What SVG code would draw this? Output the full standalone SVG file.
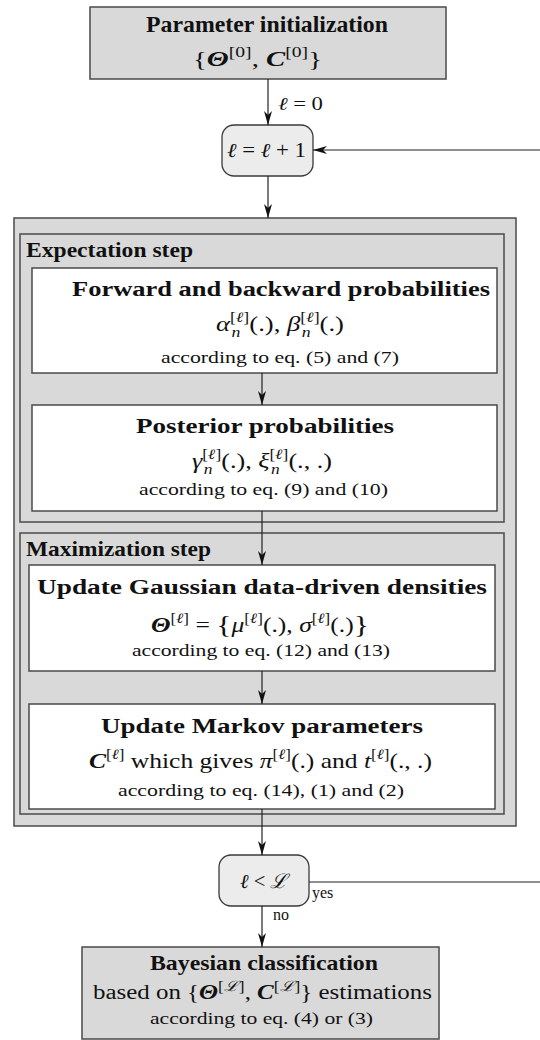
<svg xmlns="http://www.w3.org/2000/svg" width="540" height="1040" viewBox="0 0 540 1040">
<style>
text{font-family:"Liberation Serif","DejaVu Serif",serif;fill:#111}
.gray{fill:#d9d9d9;stroke:#4a4a4a;stroke-width:1.5}
.white{fill:#fff;stroke:#4a4a4a;stroke-width:1.5}
.loop{fill:#ececec;stroke:#3a3a3a;stroke-width:1.3}
.conn{stroke:#222;stroke-width:1.2;fill:none}
.b{font-weight:bold}
.i{font-style:italic}
.bi{font-style:italic;font-weight:bold}
.t{font-weight:bold;font-size:20px}
.m{font-size:21px}
.a{font-size:16px}
.s{font-size:14px}
</style>
<defs>
<marker id="ah" viewBox="0 0 14 8" refX="14" refY="4" markerWidth="14" markerHeight="8" markerUnits="userSpaceOnUse" orient="auto">
<path d="M0,0 L14,4 L0,8 L4,4 Z" fill="#111"/>
</marker>
</defs>

<g id="outer-em">
<rect class="gray" x="14" y="218" width="502" height="608"/>
</g>
<g id="expectation-step">
<rect class="gray" x="20" y="234" width="484" height="288"/>
<text class="b" x="26" y="257" font-size="21" textLength="167" lengthAdjust="spacingAndGlyphs">Expectation step</text>
</g>
<g id="maximization-step">
<rect class="gray" x="20" y="533" width="484" height="281"/>
<text class="b" x="26" y="556" font-size="21" textLength="185" lengthAdjust="spacingAndGlyphs">Maximization step</text>
</g>

<g id="init">
<rect class="gray" x="90" y="7" width="356" height="72"/>
<text class="b" x="146" y="32" font-size="23.5" textLength="242" lengthAdjust="spacingAndGlyphs">Parameter initialization</text>
<text x="193" y="66" font-size="22" textLength="129" lengthAdjust="spacingAndGlyphs">{<tspan class="bi">Θ</tspan><tspan dy="-9" font-size="15">[0]</tspan><tspan dy="9">, </tspan><tspan class="bi">C</tspan><tspan dy="-9" font-size="15">[0]</tspan><tspan dy="9">}</tspan></text>
</g>

<g id="increment">
<rect class="loop" x="222" y="125" width="91" height="51" rx="12"/>
<text x="227" y="157" font-size="20" textLength="79" lengthAdjust="spacingAndGlyphs"><tspan class="i">ℓ</tspan> = <tspan class="i">ℓ</tspan> + 1</text>
</g>

<g id="forward-backward">
<rect class="white" x="32" y="268" width="465" height="105"/>
<text class="t" x="72" y="296" textLength="418" lengthAdjust="spacingAndGlyphs">Forward and backward probabilities</text>
<text class="m" x="216" y="331" textLength="128" lengthAdjust="spacingAndGlyphs"><tspan class="i">α</tspan><tspan dy="-9" class="s">[</tspan><tspan class="s i">ℓ</tspan><tspan class="s">]</tspan><tspan dx="-14" dy="15" class="s i">n</tspan><tspan dx="7" dy="-6">(.), </tspan><tspan class="i">β</tspan><tspan dy="-9" class="s">[</tspan><tspan class="s i">ℓ</tspan><tspan class="s">]</tspan><tspan dx="-14" dy="15" class="s i">n</tspan><tspan dx="7" dy="-6">(.)</tspan></text>
<text class="a" x="161" y="363" textLength="238" lengthAdjust="spacingAndGlyphs">according to eq. (5) and (7)</text>
</g>

<g id="posterior">
<rect class="white" x="32" y="405" width="465" height="106"/>
<text class="t" x="136" y="433" textLength="258" lengthAdjust="spacingAndGlyphs">Posterior probabilities</text>
<text class="m" x="192" y="468" textLength="140" lengthAdjust="spacingAndGlyphs"><tspan class="i">γ</tspan><tspan dy="-9" class="s">[</tspan><tspan class="s i">ℓ</tspan><tspan class="s">]</tspan><tspan dx="-14" dy="15" class="s i">n</tspan><tspan dx="7" dy="-6">(.), </tspan><tspan class="i">ξ</tspan><tspan dy="-9" class="s">[</tspan><tspan class="s i">ℓ</tspan><tspan class="s">]</tspan><tspan dx="-14" dy="15" class="s i">n</tspan><tspan dx="7" dy="-6">(., .)</tspan></text>
<text class="a" x="139" y="495" textLength="249" lengthAdjust="spacingAndGlyphs">according to eq. (9) and (10)</text>
</g>

<g id="update-gaussian">
<rect class="white" x="29" y="565" width="466" height="106"/>
<text class="t" x="37" y="594" textLength="450" lengthAdjust="spacingAndGlyphs">Update Gaussian data-driven densities</text>
<text class="m" x="151" y="632" textLength="218" lengthAdjust="spacingAndGlyphs"><tspan class="bi">Θ</tspan><tspan dy="-9" class="s">[</tspan><tspan class="s i">ℓ</tspan><tspan class="s">]</tspan><tspan dy="9"> = </tspan><tspan font-size="26" dy="1">{</tspan><tspan class="i" dy="-1">μ</tspan><tspan dy="-9" class="s">[</tspan><tspan class="s i">ℓ</tspan><tspan class="s">]</tspan><tspan dy="9">(.), </tspan><tspan class="i">σ</tspan><tspan dy="-9" class="s">[</tspan><tspan class="s i">ℓ</tspan><tspan class="s">]</tspan><tspan dy="9">(.)</tspan><tspan font-size="26" dy="1">}</tspan></text>
<text class="a" x="132" y="656" textLength="258" lengthAdjust="spacingAndGlyphs">according to eq. (12) and (13)</text>
</g>

<g id="update-markov">
<rect class="white" x="29" y="704" width="466" height="105"/>
<text class="t" x="101" y="733" textLength="322" lengthAdjust="spacingAndGlyphs">Update Markov parameters</text>
<text class="m" x="89" y="768" textLength="343" lengthAdjust="spacingAndGlyphs"><tspan class="bi">C</tspan><tspan dy="-9" class="s">[</tspan><tspan class="s i">ℓ</tspan><tspan class="s">]</tspan><tspan dy="9"> which gives </tspan><tspan class="i">π</tspan><tspan dy="-9" class="s">[</tspan><tspan class="s i">ℓ</tspan><tspan class="s">]</tspan><tspan dy="9">(.) and </tspan><tspan class="i">t</tspan><tspan dy="-9" class="s">[</tspan><tspan class="s i">ℓ</tspan><tspan class="s">]</tspan><tspan dy="9">(., .)</tspan></text>
<text class="a" x="118" y="796" textLength="286" lengthAdjust="spacingAndGlyphs">according to eq. (14), (1) and (2)</text>
</g>

<g id="test">
<rect class="loop" x="219" y="855" width="90" height="51" rx="12"/>
<text x="240" y="888" font-size="20" textLength="48" lengthAdjust="spacingAndGlyphs"><tspan class="i">ℓ</tspan> &lt; <tspan class="i">ℒ</tspan></text>
</g>

<g id="classification">
<rect class="gray" x="82" y="947" width="357" height="92"/>
<text class="b" x="150" y="970" font-size="22" textLength="228" lengthAdjust="spacingAndGlyphs">Bayesian classification</text>
<text x="93" y="999" font-size="20" textLength="339" lengthAdjust="spacingAndGlyphs">based on {<tspan class="bi">Θ</tspan><tspan dy="-8" class="s">[</tspan><tspan class="s i">ℒ</tspan><tspan class="s">]</tspan><tspan dy="8">, </tspan><tspan class="bi">C</tspan><tspan dy="-8" class="s">[</tspan><tspan class="s i">ℒ</tspan><tspan class="s">]</tspan><tspan dy="8">} estimations</tspan></text>
<text class="a" x="150" y="1024" textLength="223" lengthAdjust="spacingAndGlyphs">according to eq. (4) or (3)</text>
</g>

<g id="connectors">
<line class="conn" x1="268" y1="79" x2="268" y2="125" marker-end="url(#ah)"/>
<text x="278" y="110" font-size="18" textLength="45" lengthAdjust="spacingAndGlyphs"><tspan class="i">ℓ</tspan> = 0</text>
<line class="conn" x1="540" y1="150" x2="313" y2="150" marker-end="url(#ah)"/>
<line class="conn" x1="268" y1="176" x2="268" y2="218" marker-end="url(#ah)"/>
<line class="conn" x1="262" y1="373" x2="262" y2="405" marker-end="url(#ah)"/>
<line class="conn" x1="262" y1="511" x2="262" y2="565" marker-end="url(#ah)"/>
<line class="conn" x1="262" y1="671" x2="262" y2="704" marker-end="url(#ah)"/>
<line class="conn" x1="262" y1="809" x2="262" y2="855" marker-end="url(#ah)"/>
<line class="conn" x1="262" y1="906" x2="262" y2="947" marker-end="url(#ah)"/>
<line class="conn" x1="309" y1="882" x2="540" y2="882"/>
<text x="312" y="898" font-size="16">yes</text>
<text x="273" y="920" font-size="16">no</text>
</g>
</svg>
